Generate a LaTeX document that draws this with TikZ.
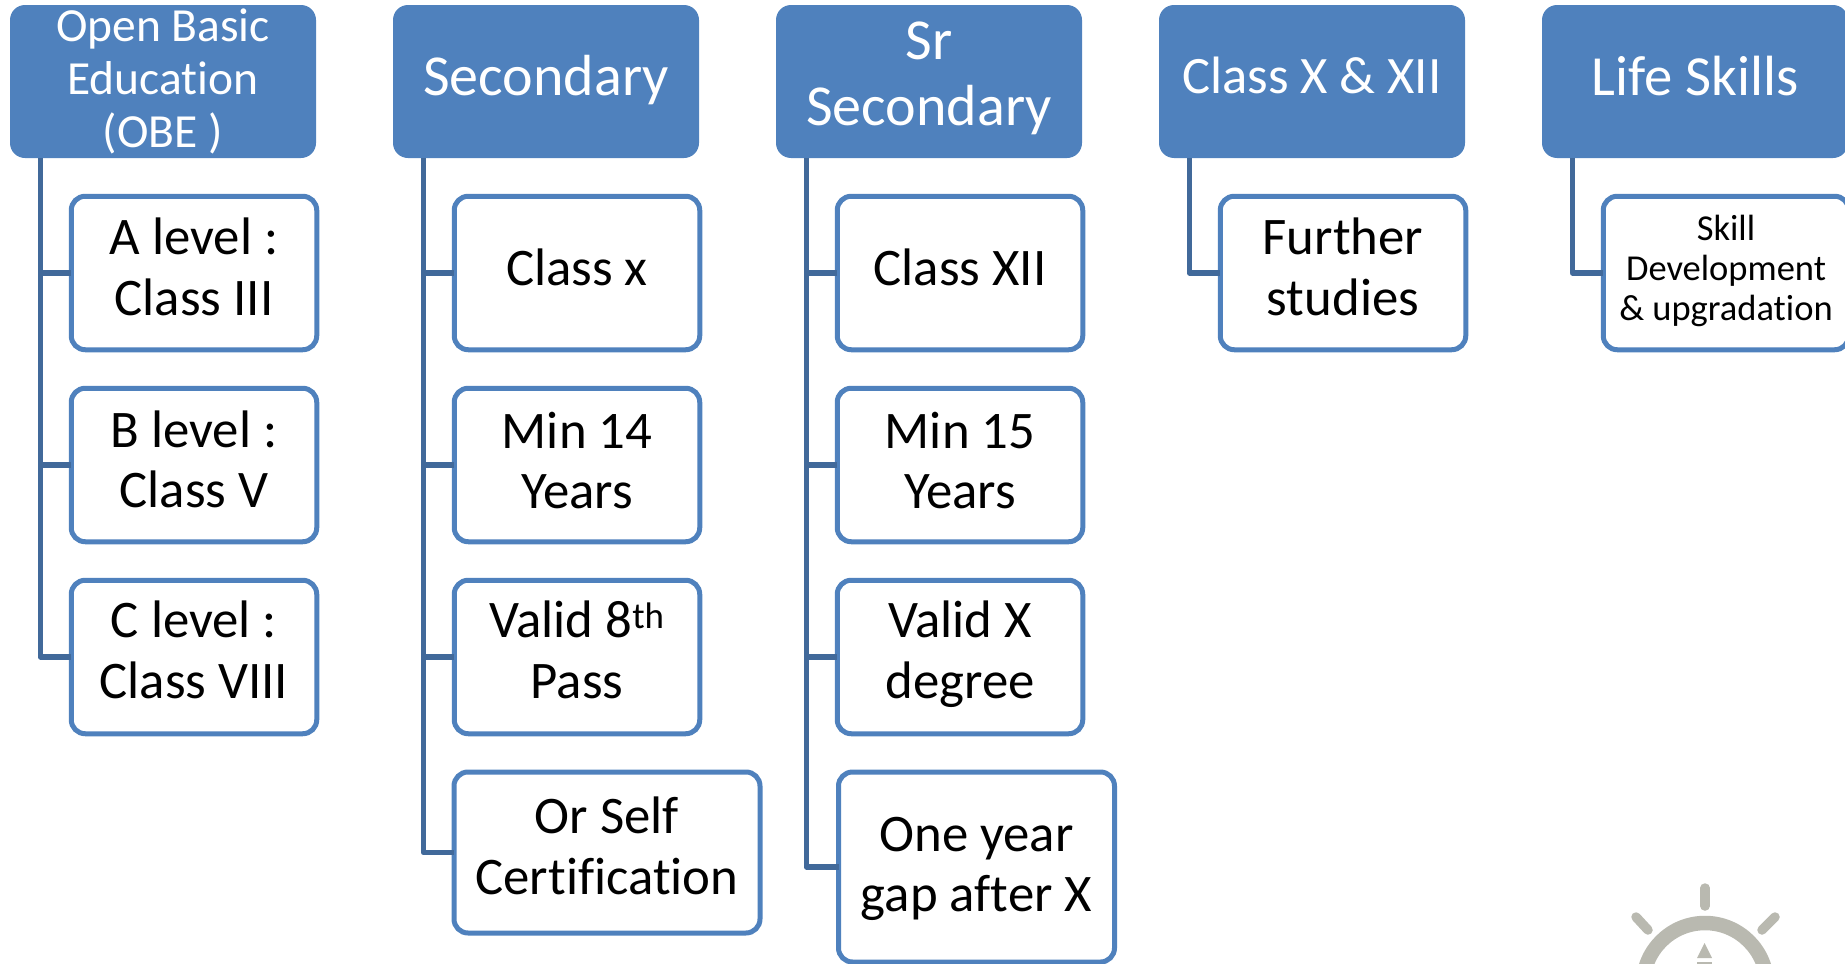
\documentclass[tikz,border=0pt]{standalone}
\usepackage{fontspec}
\setmainfont{Carlito}[Ligatures=NoCommon]
\definecolor{headblue}{HTML}{4F81BD}
\definecolor{linkblue}{HTML}{41699A}
\definecolor{wheelgrey}{HTML}{B9B9B0}
\newcommand{\fs}[2]{\fontsize{#1}{#2}\selectfont}
\newcommand{\tl}[2]{\raisebox{#1}[\dimexpr\height-8pt][\dimexpr\depth-8pt]{\begin{tabular}{@{}c@{}}#2\end{tabular}}}
\tikzset{
  x=1pt,y=-1pt,
  headbox/.style={rectangle,rounded corners=15pt,fill=headblue,text=white,minimum width=306pt,minimum height=153pt,inner sep=0pt,outer sep=0pt},
  childbox/.style={rectangle,rounded corners=14pt,draw=headblue,line width=5pt,fill=white,text=black,minimum width=245.5pt,minimum height=153.5pt,inner sep=0pt,outer sep=0pt,font=\fs{52.8}{61}},
  link/.style={draw=linkblue,line width=5.5pt,line join=round},
  wheel/.style={draw=wheelgrey,line width=9.5pt,line cap=round}
}
\begin{document}
\begin{tikzpicture}
\useasboundingbox (0,0) rectangle (1845,964);
% headers
\node[headbox,font=\fs{47.5}{53}] (h1) at (163,81.5) {\tl{-2pt}{Open Basic\\Education\\(OBE )}};
\node[headbox,font=\fs{58}{66}] (h2) at (546,81.5) {\tl{-1pt}{Secondary}};
\node[headbox,font=\fs{58}{66}] (h3) at (929,81.5) {\tl{2pt}{Sr\\Secondary}};
\node[headbox,font=\fs{52.6}{60}] (h4) at (1312,81.5) {\tl{0pt}{Class X \& XII}};
\node[headbox,font=\fs{56.7}{64}] (h5) at (1695,81.5) {\tl{-1pt}{Life Skills}};
% column 1
\node[childbox] (a1) at (194,273) {\tl{0pt}{A level :\\Class III}};
\node[childbox,font=\fs{52.8}{60}] (a2) at (194,465) {\tl{0pt}{B level :\\Class V}};
\node[childbox] (a3) at (194,657) {\tl{1pt}{C level :\\Class VIII}};
% column 2
\node[childbox] (b1) at (577,273) {\tl{0pt}{Class x}};
\node[childbox,font=\fs{52.8}{60}] (b2) at (577,465) {\tl{-1pt}{Min 14\\Years}};
\node[childbox] (b3) at (577,657) {\tl{1.5pt}{Valid 8\textsuperscript{th}\\Pass}};
\node[childbox,minimum width=306pt,minimum height=161pt] (b4) at (607,852.5) {\tl{1pt}{Or Self\\Certification}};
% column 3
\node[childbox] (c1) at (960,273) {\tl{0pt}{Class XII}};
\node[childbox,font=\fs{52.8}{60}] (c2) at (960,465) {\tl{-1pt}{Min 15\\Years}};
\node[childbox] (c3) at (960,657) {\tl{1pt}{Valid X\\degree}};
\node[childbox,font=\fs{52.8}{60},minimum width=276pt,minimum height=190pt] (c4) at (976.5,867) {\tl{-2pt}{One year\\gap after X}};
% column 4
\node[childbox] (d1) at (1343,273) {\tl{0pt}{Further\\studies}};
% column 5
\node[childbox,font=\fs{36.5}{40}] (e1) at (1726,273) {\tl{1pt}{Skill\\Development\\\& upgradation}};
% connectors
\foreach \h/\kids in {h1/{a1,a2,a3},h2/{b1,b2,b3,b4},h3/{c1,c2,c3,c4},h4/{d1},h5/{e1}}{
  \foreach \k in \kids {
    \draw[link] ([xshift=30.5pt]\h.south west) |- (\k.west);
  }
}
% wheel emblem
\draw[draw=wheelgrey,line width=14.5pt] (1705,985) circle (62);
\draw[wheel] (1705,888) -- (1705,906);
\draw[wheel] (1636,917) -- (1648,930);
\draw[wheel] (1775,917) -- (1762,930);
\fill[wheelgrey] (1704.5,943) -- (1712,958) -- (1697,958) -- cycle;
\fill[wheelgrey] (1697,962) rectangle (1712,964);
\end{tikzpicture}
\end{document}
